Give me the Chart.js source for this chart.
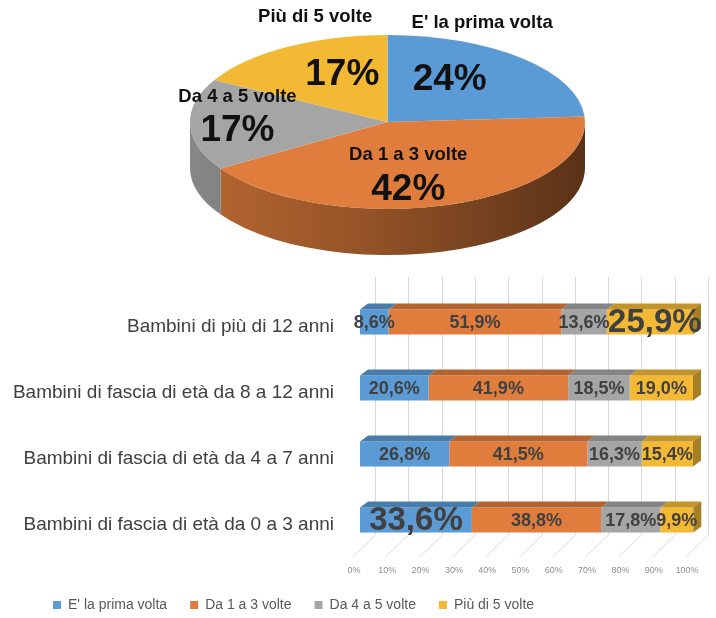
<!DOCTYPE html>
<html>
<head>
<meta charset="utf-8">
<script src="https://cdn.jsdelivr.net/npm/chart.js@4.4.1/dist/chart.umd.min.js"></script>
<style>
  body { margin: 0; background: #fff; }
  #wrap { position: relative; width: 716px; height: 618px; overflow: hidden; background: #fff; }
  #pieBox { position: absolute; left: 0; top: 0; width: 716px; height: 265px; }
  #barBox { position: absolute; left: 0; top: 263px; width: 716px; height: 359px; }
</style>
</head>
<body>
<div id="wrap">
  <div id="pieBox"><canvas id="pieChart"></canvas></div>
  <div id="barBox"><canvas id="barChart"></canvas></div>
</div>
<script>
// --- data ---
const seriesNames = ["E' la prima volta", "Da 1 a 3 volte", "Da 4 a 5 volte", "Più di 5 volte"];
const pieValues = [24, 42, 17, 17];

const ageGroups = [
  "Bambini di più di 12 anni",
  "Bambini di fascia di età da 8 a 12 anni",
  "Bambini di fascia di età da 4 a 7 anni",
  "Bambini di fascia di età da 0 a 3 anni"
];
const firstTime = [8.6, 20.6, 26.8, 33.6];
const oneToThree = [51.9, 41.9, 41.5, 38.8];
const fourToFive = [13.6, 18.5, 16.3, 17.8];
const moreThanFive = [25.9, 19.0, 15.4, 9.9];
// cells whose label is printed large: [series, row]
const bigLabels = [[3, 0], [0, 3]];

const colors = ["#5B9BD5", "#E07D3C", "#A5A5A5", "#F4B934"];

Chart.defaults.font.family = "'Liberation Sans', Arial, sans-serif";

function shade(hex, k) {
  const n = parseInt(hex.slice(1), 16);
  const r = Math.round(((n >> 16) & 255) * k);
  const g = Math.round(((n >> 8) & 255) * k);
  const b = Math.round((n & 255) * k);
  return "rgb(" + r + "," + g + "," + b + ")";
}

// --- pie (3D look) ---
const PIE_RX = 197.5;   // horizontal radius of the tilted pie
const PIE_DEPTH = 46;

// label spots as fractions of the radius along the slice mid angle
const pieLabelSpots = [
  { value: [0.46, 0.66, 0], name: [0.70, 1.56, 0] },
  { value: [0.34, 0.82, 0], name: [0.34, 0.40, 0] },
  { value: [0.76, 0, 9], name: [0.76, 0, -25] },
  { value: [0.45, 0.63, 0], name: [0.72, 1.40, 0] }
];

function pieGeom(chart) {
  const arc = chart.getDatasetMeta(0).data[0];
  return { cx: arc.x, cy: arc.y, r: arc.outerRadius, sx: PIE_RX / arc.outerRadius };
}

const pie3d = {
  id: "pie3d",
  beforeDatasetsDraw(chart) {
    const ctx = chart.ctx;
    const { cx, cy, r, sx } = pieGeom(chart);
    ctx.save();
    ctx.translate(cx, cy);
    ctx.scale(sx, 1);
    ctx.translate(-cx, -cy);
    chart.getDatasetMeta(0).data.forEach((arc, i) => {
      const a0 = Math.max(arc.startAngle, 0);
      const a1 = Math.min(arc.endAngle, Math.PI);
      if (a1 <= a0) return;
      const g = ctx.createLinearGradient(cx - r, 0, cx + r, 0);
      g.addColorStop(0, shade(colors[i], 0.82));
      g.addColorStop(0.5, shade(colors[i], 0.64));
      g.addColorStop(1, shade(colors[i], 0.4));
      ctx.beginPath();
      ctx.arc(cx, cy, r, a0, a1);
      ctx.arc(cx, cy + PIE_DEPTH, r, a1, a0, true);
      ctx.closePath();
      ctx.fillStyle = g;
      ctx.fill();
    });
  },
  afterDatasetsDraw(chart) {
    chart.ctx.restore();
  }
};

const pieLabels = {
  id: "pieLabels",
  afterDraw(chart) {
    const ctx = chart.ctx;
    const { cx, cy, r, sx } = pieGeom(chart);
    ctx.save();
    ctx.fillStyle = "#111";
    ctx.textAlign = "center";
    ctx.textBaseline = "middle";
    chart.getDatasetMeta(0).data.forEach((arc, i) => {
      const mid = (arc.startAngle + arc.endAngle) / 2;
      const spot = pieLabelSpots[i];
      const place = s => [cx + Math.cos(mid) * r * sx * s[0], cy + Math.sin(mid) * r * s[1] + s[2]];
      let p = place(spot.name);
      ctx.font = "bold 18.5px 'Liberation Sans', Arial, sans-serif";
      ctx.fillText(chart.data.labels[i], p[0], p[1]);
      p = place(spot.value);
      ctx.font = "bold 37px 'Liberation Sans', Arial, sans-serif";
      ctx.fillText(pieValues[i] + "%", p[0], p[1]);
    });
    ctx.restore();
  }
};

new Chart(document.getElementById("pieChart"), {
  type: "pie",
  data: {
    labels: seriesNames,
    datasets: [{ data: pieValues, backgroundColor: colors, borderWidth: 0, clip: false }]
  },
  options: {
    responsive: true,
    maintainAspectRatio: false,
    animation: false,
    layout: { padding: { top: 35, bottom: 56, left: 59, right: 0 } },
    plugins: { legend: { display: false }, tooltip: { enabled: false } }
  },
  plugins: [pie3d, pieLabels]
});

// --- stacked bars (3D look) ---
const TOP_DX = 8, TOP_DY = 6;
const LEGEND_LEFT = 30;

const bar3d = {
  id: "bar3d",
  beforeDatasetsDraw(chart) {
    const { ctx, chartArea, scales } = chart;
    const x = scales.x;
    ctx.save();
    ctx.strokeStyle = "#d9d9d9";
    ctx.lineWidth = 1;
    x.ticks.forEach(t => {
      const px = Math.round(x.getPixelForValue(t.value)) + 0.5;
      ctx.beginPath();
      ctx.moveTo(px + 15, chartArea.top - 12);
      ctx.lineTo(px + 15, chartArea.bottom - 18);
      ctx.lineTo(px - 8, chartArea.bottom + 4);
      ctx.stroke();
    });
    ctx.restore();
  },
  afterDatasetsDraw(chart) {
    const ctx = chart.ctx;
    const last = chart.data.datasets.length - 1;
    ctx.save();
    chart.data.datasets.forEach((ds, i) => {
      chart.getDatasetMeta(i).data.forEach(bar => {
        const p = bar.getProps(["x", "y", "base", "height"], true);
        const top = p.y - p.height / 2, bottom = p.y + p.height / 2;
        const left = Math.min(p.x, p.base), right = Math.max(p.x, p.base);
        ctx.fillStyle = shade(ds.backgroundColor, 0.8);
        ctx.beginPath();
        ctx.moveTo(left, top);
        ctx.lineTo(left + TOP_DX, top - TOP_DY);
        ctx.lineTo(right + TOP_DX, top - TOP_DY);
        ctx.lineTo(right, top);
        ctx.closePath();
        ctx.fill();
        if (i === last) {
          ctx.fillStyle = shade(ds.backgroundColor, 0.68);
          ctx.beginPath();
          ctx.moveTo(right, top);
          ctx.lineTo(right + TOP_DX, top - TOP_DY);
          ctx.lineTo(right + TOP_DX, bottom - TOP_DY);
          ctx.lineTo(right, bottom);
          ctx.closePath();
          ctx.fill();
        }
      });
    });
    // value labels
    ctx.fillStyle = "#404040";
    ctx.textAlign = "center";
    ctx.textBaseline = "middle";
    chart.data.datasets.forEach((ds, i) => {
      chart.getDatasetMeta(i).data.forEach((bar, j) => {
        const p = bar.getProps(["x", "y", "base"], true);
        const big = bigLabels.some(b => b[0] === i && b[1] === j);
        ctx.font = (big ? "bold 33px " : "bold 18px ") + "'Liberation Sans', Arial, sans-serif";
        const txt = ds.data[j].toFixed(1).replace(".", ",") + "%";
        // a big label in the last segment sits a bit to the right
        const nudge = big && i === last ? 5 : 0;
        ctx.fillText(txt, (p.x + p.base) / 2 + nudge, p.y + 1);
      });
    });
    ctx.restore();
  }
};

const legendShift = {
  id: "legendShift",
  afterLayout(chart) {
    chart.legend.left = LEGEND_LEFT;
  }
};

const seriesData = [firstTime, oneToThree, fourToFive, moreThanFive];

new Chart(document.getElementById("barChart"), {
  type: "bar",
  data: {
    labels: ageGroups,
    datasets: seriesNames.map((name, i) => ({
      label: name,
      data: seriesData[i],
      backgroundColor: colors[i],
      borderWidth: 0,
      categoryPercentage: 0.38,
      barPercentage: 1
    }))
  },
  options: {
    indexAxis: "y",
    responsive: true,
    maintainAspectRatio: false,
    animation: false,
    layout: { padding: { top: 26, right: 23, bottom: 0, left: 0 } },
    scales: {
      x: {
        stacked: true,
        min: 0,
        max: 100,
        grid: { display: false, drawTicks: false },
        border: { display: false },
        ticks: {
          stepSize: 10,
          callback: v => v + "%",
          font: { size: 9 },
          color: "#8c8c8c",
          padding: 12,
          labelOffset: -6,
          maxRotation: 0
        },
        afterFit: scale => {
          scale.height = 22;
          scale.paddingLeft = 0;
          scale.paddingRight = 0;
        }
      },
      y: {
        stacked: true,
        grid: { display: false, drawTicks: false },
        border: { display: false },
        ticks: { font: { size: 19 }, color: "#404040", padding: 26, labelOffset: 5 },
        afterFit: scale => {
          scale.width = 360;
          scale.paddingTop = 0;
          scale.paddingBottom = 0;
        }
      }
    },
    plugins: {
      legend: {
        position: "bottom",
        align: "start",
        labels: {
          boxWidth: 8,
          boxHeight: 8,
          padding: 23,
          color: "#595959",
          font: { size: 14 }
        }
      },
      tooltip: { enabled: false }
    }
  },
  plugins: [bar3d, legendShift]
});
</script>
</body>
</html>
